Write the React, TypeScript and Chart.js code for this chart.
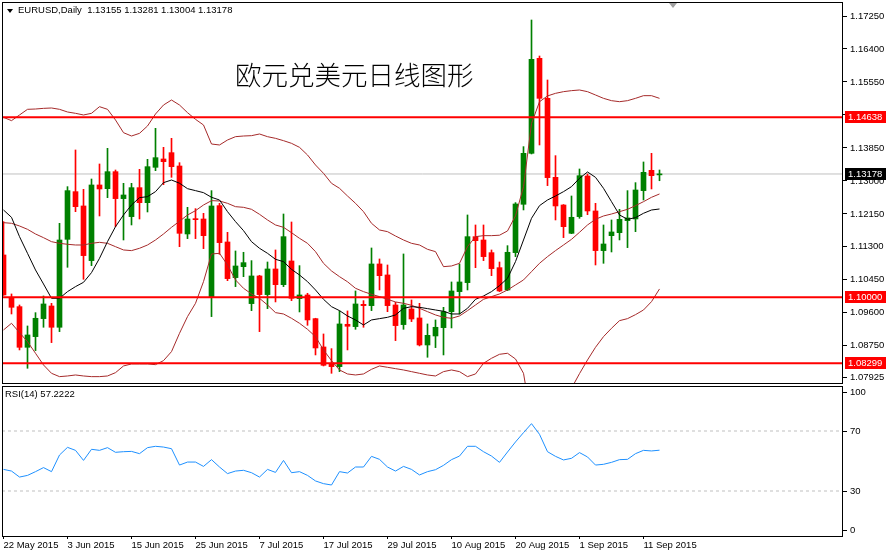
import React, { useEffect, useRef } from 'react';
import { Chart, registerables } from 'chart.js';

Chart.register(...registerables);

// ---- data ----
const opens = [
  1.11091, 1.10000, 1.09759, 1.08711, 1.08986, 1.09450, 1.09776, 1.09227, 1.11494, 1.12723,
  1.12354, 1.10945, 1.12895, 1.12800, 1.13238, 1.12543, 1.12079, 1.12826, 1.12439, 1.13350,
  1.13565, 1.13728, 1.13384, 1.11632, 1.12027, 1.12018, 1.10000, 1.12362, 1.11426, 1.10507,
  1.10790, 1.09837, 1.10550, 1.10069, 1.10730, 1.10326, 1.10936, 1.09966, 1.10060, 1.09450,
  1.08720, 1.08299, 1.08213, 1.09304, 1.09244, 1.09819, 1.09785, 1.10859, 1.10576, 1.09802,
  1.09296, 1.09699, 1.09467, 1.08771, 1.09003, 1.09218, 1.09630, 1.10146, 1.10378, 1.11563,
  1.11477, 1.11151, 1.10764, 1.10189, 1.11151, 1.12397, 1.13711, 1.16159, 1.15128, 1.13092,
  1.12379, 1.11649, 1.12079, 1.13127, 1.12225, 1.11203, 1.11589, 1.11666, 1.11976, 1.12019,
  1.12749, 1.13273, 1.13155,
];
const highs = [
  1.11950, 1.10086, 1.09802, 1.09261, 1.09604, 1.10034, 1.09845, 1.11907, 1.12852, 1.13797,
  1.12783, 1.13049, 1.13436, 1.13840, 1.13281, 1.12938, 1.12938, 1.13298, 1.13556, 1.14355,
  1.13865, 1.14097, 1.13470, 1.12319, 1.12285, 1.12164, 1.12749, 1.12422, 1.11675, 1.11194,
  1.11160, 1.10945, 1.10567, 1.10910, 1.11220, 1.12147, 1.11941, 1.10816, 1.10103, 1.09460,
  1.09055, 1.08677, 1.09648, 1.09648, 1.10163, 1.09914, 1.11271, 1.10988, 1.10833, 1.09871,
  1.11117, 1.09931, 1.09845, 1.09313, 1.09416, 1.09742, 1.10395, 1.10859, 1.12122, 1.11864,
  1.11864, 1.11220, 1.10910, 1.11331, 1.12440, 1.13883, 1.17147, 1.16219, 1.15601, 1.13651,
  1.12390, 1.12611, 1.13307, 1.13178, 1.12422, 1.11864, 1.11993, 1.12268, 1.12749, 1.12955,
  1.13488, 1.13711, 1.13281,
];
const lows = [
  1.10050, 1.09570, 1.08643, 1.08170, 1.08625, 1.09227, 1.08832, 1.09115, 1.10773, 1.12207,
  1.10464, 1.10816, 1.12096, 1.12568, 1.11821, 1.11477, 1.11864, 1.12018, 1.12199, 1.13264,
  1.12903, 1.13092, 1.11305, 1.11512, 1.11512, 1.11254, 1.09502, 1.11108, 1.10429, 1.10275,
  1.10532, 1.09656, 1.09115, 1.09708, 1.09880, 1.10275, 1.09914, 1.09622, 1.09278, 1.08514,
  1.08230, 1.08041, 1.08084, 1.08643, 1.09175, 1.09227, 1.09656, 1.10189, 1.09630, 1.08883,
  1.09175, 1.09373, 1.08746, 1.08454, 1.08703, 1.08514, 1.09210, 1.09570, 1.10189, 1.10764,
  1.10945, 1.10558, 1.10146, 1.10170, 1.11048, 1.12251, 1.13694, 1.13926, 1.12878, 1.11993,
  1.11538, 1.11640, 1.12036, 1.12130, 1.10833, 1.10876, 1.11168, 1.11478, 1.11280, 1.11692,
  1.12508, 1.12792, 1.13004,
];
const closes = [
  1.10060, 1.09742, 1.08711, 1.09029, 1.09459, 1.09828, 1.09227, 1.11477, 1.12749, 1.12336,
  1.11074, 1.12895, 1.12792, 1.13238, 1.12543, 1.12637, 1.12826, 1.12439, 1.13367, 1.13599,
  1.13496, 1.13367, 1.11649, 1.12018, 1.12001, 1.11589, 1.12354, 1.11409, 1.10481, 1.10807,
  1.10893, 1.10550, 1.10069, 1.10730, 1.10326, 1.11563, 1.09974, 1.10060, 1.09416, 1.08694,
  1.08247, 1.08213, 1.09313, 1.09253, 1.09828, 1.09785, 1.10859, 1.10558, 1.09785, 1.09270,
  1.09802, 1.09441, 1.08771, 1.09020, 1.09227, 1.09630, 1.10163, 1.10395, 1.11563, 1.11460,
  1.11048, 1.10739, 1.10163, 1.11160, 1.12405, 1.13711, 1.16133, 1.15128, 1.13084, 1.12354,
  1.11821, 1.12062, 1.13135, 1.12225, 1.11203, 1.11374, 1.11684, 1.12010, 1.12045, 1.12766,
  1.13221, 1.13135, 1.13178,
];
const upperBand = [
  1.14638, 1.14553, 1.14699, 1.14845, 1.14853, 1.14870, 1.14879, 1.14845, 1.14776, 1.14742,
  1.14699, 1.14742, 1.14913, 1.14845, 1.14570, 1.14243, 1.14157, 1.14226, 1.14415, 1.14724,
  1.14956, 1.15085, 1.14956, 1.14759, 1.14587, 1.14441, 1.13951, 1.13926, 1.14054, 1.14140,
  1.14157, 1.14166, 1.14209, 1.14140, 1.14097, 1.14037, 1.13968, 1.13865, 1.13668, 1.13410,
  1.13195, 1.12938, 1.12809, 1.12611, 1.12422, 1.12207, 1.11907, 1.11735, 1.11692, 1.11580,
  1.11477, 1.11391, 1.11348, 1.11237, 1.11177, 1.10790, 1.10807, 1.10876, 1.11305, 1.11563,
  1.11589, 1.11589, 1.11600, 1.11710, 1.12100, 1.12850, 1.14480, 1.15040, 1.15190, 1.15257,
  1.15300, 1.15326, 1.15343, 1.15300, 1.15214, 1.15128, 1.15068, 1.15042, 1.15068, 1.15128,
  1.15197, 1.15197, 1.15128,
];
const middleBand = [
  1.11924, 1.11907, 1.11838, 1.11752, 1.11632, 1.11537, 1.11434, 1.11391, 1.11366, 1.11348,
  1.11348, 1.11391, 1.11417, 1.11391, 1.11305, 1.11220, 1.11203, 1.11263, 1.11348, 1.11477,
  1.11632, 1.11804, 1.11960, 1.12121, 1.12233, 1.12379, 1.12491, 1.12482, 1.12422, 1.12336,
  1.12319, 1.12268, 1.12139, 1.11993, 1.11864, 1.11804, 1.11666, 1.11520, 1.11391, 1.11177,
  1.10876, 1.10679, 1.10532, 1.10400, 1.10232, 1.10146, 1.10077, 1.10017, 1.09948, 1.09880,
  1.09845, 1.09794, 1.09716, 1.09630, 1.09545, 1.09484, 1.09459, 1.09519, 1.09656, 1.09802,
  1.09948, 1.10017, 1.10086, 1.10189, 1.10318, 1.10447, 1.10661, 1.10876, 1.11048, 1.11203,
  1.11348, 1.11494, 1.11675, 1.11864, 1.12010, 1.12096, 1.12147, 1.12207, 1.12268, 1.12362,
  1.12465, 1.12577, 1.12663,
];
const lowerBand = [
  1.09158, 1.09330, 1.09089, 1.08857, 1.08557, 1.08256, 1.08041, 1.07955, 1.07972, 1.07998,
  1.07972, 1.07955, 1.07955, 1.07972, 1.08058, 1.08230, 1.08282, 1.08282, 1.08282, 1.08264,
  1.08368, 1.08600, 1.09072, 1.09502, 1.09845, 1.10404, 1.11116, 1.11134, 1.10833, 1.10447,
  1.10232, 1.10086, 1.09974, 1.09802, 1.09605, 1.09570, 1.09459, 1.09330, 1.09175, 1.08986,
  1.08643, 1.08368, 1.08127, 1.08024, 1.07998, 1.08024, 1.08144, 1.08230, 1.08196, 1.08161,
  1.08127, 1.08084, 1.08041, 1.07998, 1.07972, 1.08084, 1.08127, 1.08084, 1.07955, 1.08024,
  1.08299, 1.08428, 1.08531, 1.08557, 1.08410, 1.08041, 1.06840, 1.06710, 1.06910, 1.07150,
  1.07400, 1.07655, 1.08033, 1.08385, 1.08711, 1.08986, 1.09201, 1.09398, 1.09450, 1.09553,
  1.09673, 1.09888, 1.10215,
];
const maLine = [
  1.12250, 1.12061, 1.11563, 1.11134, 1.10704, 1.10343, 1.09974, 1.09974, 1.10146, 1.10275,
  1.10386, 1.10636, 1.11005, 1.11434, 1.11821, 1.12122, 1.12379, 1.12568, 1.12594, 1.12723,
  1.12955, 1.13023, 1.12940, 1.12800, 1.12749, 1.12697, 1.12577, 1.12508, 1.12207, 1.11950,
  1.11718, 1.11434, 1.11263, 1.11134, 1.10979, 1.10919, 1.10721, 1.10575, 1.10404, 1.10189,
  1.09948, 1.09759, 1.09656, 1.09519, 1.09416, 1.09287, 1.09416, 1.09450, 1.09484, 1.09545,
  1.09716, 1.09759, 1.09742, 1.09708, 1.09673, 1.09639, 1.09570, 1.09570, 1.09716, 1.09948,
  1.10034, 1.10146, 1.10300, 1.10490, 1.10920, 1.11477, 1.12036, 1.12362, 1.12508, 1.12611,
  1.12723, 1.12852, 1.13067, 1.13230, 1.13092, 1.12809, 1.12465, 1.12122, 1.12010, 1.12053,
  1.12165, 1.12250, 1.12276,
];
const rsiValues = [
  44.4, 43.3, 39.3, 40.4, 42.9, 45.6, 42.9, 54.0, 59.1, 57.1,
  50.4, 57.8, 57.1, 58.9, 55.8, 56.2, 56.4, 54.9, 58.9, 59.8,
  59.3, 58.2, 47.3, 49.3, 49.3, 46.4, 50.9, 46.0, 41.6, 43.3,
  43.8, 42.2, 39.3, 44.4, 42.4, 50.4, 42.2, 42.9, 40.4, 36.7,
  34.9, 34.0, 42.9, 42.0, 46.0, 46.0, 53.1, 51.1, 46.0, 43.3,
  46.4, 44.4, 40.7, 42.9, 44.2, 47.1, 50.9, 53.3, 59.8, 59.8,
  56.2, 53.3, 49.1, 56.0, 62.7, 68.9, 74.9, 67.8, 56.2, 53.1,
  50.7, 51.8, 55.6, 52.7, 47.3, 47.8, 49.1, 50.9, 51.1, 54.9,
  57.1, 56.7, 57.2,
];
const levelLines = [1.14638, 1.10000, 1.08299];
const bidPrice = 1.13178;
const priceTicks = [1.1725, 1.164, 1.1555, 1.147, 1.1385, 1.13, 1.1215, 1.113, 1.1045, 1.096, 1.0875, 1.07925];
const rsiLevels = [70, 30];
const rsiTickValues = [96, 70, 30, 4];
const rsiTickLabels = ['100', '70', '30', '0'];
const dateTickIndex = [0, 8, 16, 24, 32, 40, 48, 56, 64, 72, 80];
const dateTickLabels = [
  '22 May 2015', '3 Jun 2015', '15 Jun 2015', '25 Jun 2015', '7 Jul 2015', '17 Jul 2015',
  '29 Jul 2015', '10 Aug 2015', '20 Aug 2015', '1 Sep 2015', '11 Sep 2015',
];

// ---- styling ----
const X_MIN = -0.1875;
const X_MAX = 104.9375;
const UP = '#008000';
const DOWN = '#ff0000';
const BAND = '#a52a2a';
const FONT = "'Liberation Sans', Arial, sans-serif";
const TICK_FONT = { family: FONT, size: 9.5 };

const fitY = (s: any) => { s.width = 43; s.paddingTop = 0; s.paddingBottom = 0; };
const fitX = (s: any) => { s.height = 16; s.paddingLeft = 0; s.paddingRight = 0; };

const framePlugin = {
  id: 'frame',
  afterDraw(chart: any) {
    const { ctx, chartArea } = chart;
    ctx.save();
    ctx.strokeStyle = '#000';
    ctx.lineWidth = 1;
    ctx.strokeRect(chartArea.left + 0.5, chartArea.top + 0.5, chartArea.right - chartArea.left - 1, chartArea.bottom - chartArea.top);
    ctx.restore();
  },
};

const priceBoxPlugin = {
  id: 'priceBoxes',
  afterDraw(chart: any) {
    const { ctx, chartArea } = chart;
    const y = chart.scales.y;
    const x = chart.scales.x;
    ctx.save();
    ctx.font = `9.5px ${FONT}`;
    ctx.textBaseline = 'middle';
    const boxes = [
      ...levelLines.map((v) => ({ v, bg: '#ff0000' })),
      { v: bidPrice, bg: '#000000' },
    ];
    boxes.forEach(({ v, bg }) => {
      const py = Math.round(y.getPixelForValue(v));
      ctx.fillStyle = bg;
      ctx.fillRect(chartArea.right + 2, py - 6, chart.width - chartArea.right - 2, 12);
      ctx.fillStyle = '#ffffff';
      ctx.fillText(v.toFixed(5), chartArea.right + 5, py + 0.5);
    });
    // chart-shift marker
    const sx = Math.round(x.getPixelForValue(opens.length + 1)) - 3;
    ctx.fillStyle = '#a0a0a0';
    ctx.beginPath();
    ctx.moveTo(sx - 4, chartArea.top + 1);
    ctx.lineTo(sx + 4, chartArea.top + 1);
    ctx.lineTo(sx, chartArea.top + 6);
    ctx.closePath();
    ctx.fill();
    ctx.restore();
  },
};

const lineDs = (data: number[], color: string, order: number, width = 1) => ({
  type: 'line' as const,
  data: data.map((v, i) => ({ x: i, y: v })),
  borderColor: color,
  borderWidth: width,
  pointRadius: 0,
  tension: 0,
  fill: false,
  order,
});

const flatDs = (v: number, color: string, order: number, width: number, dash: number[] = []) => ({
  type: 'line' as const,
  data: [{ x: X_MIN, y: v }, { x: X_MAX, y: v }],
  borderColor: color,
  borderWidth: width,
  borderDash: dash,
  pointRadius: 0,
  fill: false,
  order,
});

const candleColor = (ctx: any) => (closes[ctx.dataIndex] >= opens[ctx.dataIndex] ? UP : DOWN);

export default function App() {
  const mainRef = useRef<HTMLCanvasElement>(null);
  const rsiRef = useRef<HTMLCanvasElement>(null);

  useEffect(() => {
    const mainChart = new Chart(mainRef.current as HTMLCanvasElement, {
      type: 'bar',
      data: {
        datasets: [
          flatDs(bidPrice, '#c0c0c0', 20, 1),
          {
            type: 'bar',
            data: highs.map((h, i) => ({ x: i, y: [lows[i], h] })),
            backgroundColor: candleColor,
            borderWidth: 0,
            barThickness: 1,
            grouped: false,
            order: 15,
          } as any,
          {
            type: 'bar',
            data: opens.map((o, i) => ({ x: i, y: [o, closes[i]] })),
            backgroundColor: candleColor,
            borderWidth: 0,
            barThickness: 5,
            minBarLength: 1,
            grouped: false,
            order: 14,
          } as any,
          lineDs(upperBand, BAND, 8),
          lineDs(middleBand, BAND, 8),
          lineDs(lowerBand, BAND, 8),
          lineDs(maLine, '#000000', 6),
          ...levelLines.map((v) => flatDs(v, '#ff0000', 2, 2)),
        ],
      },
      options: {
        responsive: false,
        animation: false,
        events: [],
        layout: { autoPadding: false, padding: { left: 2, top: 2, right: 0, bottom: 1 } },
        plugins: { legend: { display: false }, tooltip: { enabled: false }, title: { display: false } },
        scales: {
          x: { type: 'linear', min: X_MIN, max: X_MAX, display: false, offset: false, grid: { offset: false } },
          y: {
            type: 'linear',
            position: 'right',
            min: 1.07791,
            max: 1.17611,
            afterFit: fitY,
            afterBuildTicks: (s: any) => { s.ticks = priceTicks.map((v) => ({ value: v })); },
            ticks: {
              autoSkip: false,
              padding: 3,
              color: '#000',
              font: TICK_FONT,
              callback: (v: any) => Number(v).toFixed(5),
            },
            grid: { drawOnChartArea: false, drawTicks: true, tickLength: 4, tickColor: '#000', color: '#000' },
            border: { display: false },
          },
        },
      } as any,
      plugins: [framePlugin, priceBoxPlugin],
    });

    const rsiChart = new Chart(rsiRef.current as HTMLCanvasElement, {
      type: 'line',
      data: {
        datasets: [
          ...rsiLevels.map((v) => flatDs(v, '#c0c0c0', 5, 1, [3, 3])),
          lineDs(rsiValues, '#1e90ff', 1),
        ],
      },
      options: {
        responsive: false,
        animation: false,
        events: [],
        layout: { autoPadding: false, padding: { left: 2, top: 2, right: 0, bottom: 0 } },
        plugins: { legend: { display: false }, tooltip: { enabled: false } },
        scales: {
          x: {
            type: 'linear',
            min: X_MIN,
            max: X_MAX,
            offset: false,
            afterFit: fitX,
            afterBuildTicks: (s: any) => { s.ticks = dateTickIndex.map((v) => ({ value: v })); },
            ticks: {
              autoSkip: false,
              maxRotation: 0,
              minRotation: 0,
              align: 'start',
              padding: 1,
              color: '#000',
              font: TICK_FONT,
              callback: (v: any) => {
                const i = dateTickIndex.indexOf(Number(v));
                return i >= 0 ? dateTickLabels[i] : '';
              },
            },
            grid: { drawOnChartArea: false, drawTicks: true, tickLength: 3, tickColor: '#000', color: '#000' },
            border: { display: false },
          },
          y: {
            type: 'linear',
            position: 'right',
            min: 0,
            max: 100,
            afterFit: fitY,
            afterBuildTicks: (s: any) => { s.ticks = rsiTickValues.map((v) => ({ value: v })); },
            ticks: {
              autoSkip: false,
              padding: 3,
              color: '#000',
              font: TICK_FONT,
              callback: (v: any) => {
                const i = rsiTickValues.indexOf(Number(v));
                return i >= 0 ? rsiTickLabels[i] : '';
              },
            },
            grid: { drawOnChartArea: false, drawTicks: true, tickLength: 4, tickColor: '#000', color: '#000' },
            border: { display: false },
          },
        },
      } as any,
      plugins: [framePlugin],
    });

    return () => {
      mainChart.destroy();
      rsiChart.destroy();
    };
  }, []);

  const last = opens.length - 1;
  const header = `EURUSD,Daily  ${opens[last].toFixed(5)} ${highs[last].toFixed(5)} ${lows[last].toFixed(5)} ${closes[last].toFixed(5)}`;

  return (
    <div style={{ position: 'fixed', left: 0, top: 0, width: 886, height: 552, background: '#fff', overflow: 'hidden' }}>
      <canvas ref={mainRef} width={886} height={384} style={{ position: 'absolute', left: 0, top: 0 }} />
      <canvas ref={rsiRef} width={886} height={168} style={{ position: 'absolute', left: 0, top: 384 }} />
      <div style={{ position: 'absolute', left: 7, top: 9, width: 0, height: 0, borderLeft: '3px solid transparent', borderRight: '3px solid transparent', borderTop: '4px solid #000' }} />
      <div style={{ position: 'absolute', left: 18, top: 4, font: `9.5px ${FONT}`, lineHeight: '12px', color: '#000', whiteSpace: 'pre' }}>
        {header}
      </div>
      <div style={{ position: 'absolute', left: 235, top: 60, font: `300 26.5px 'Noto Sans CJK SC', sans-serif`, lineHeight: '28px', color: '#000', whiteSpace: 'pre' }}>
        欧元兑美元日线图形
      </div>
      <div style={{ position: 'absolute', left: 5, top: 388, font: `9.5px ${FONT}`, lineHeight: '12px', color: '#000', whiteSpace: 'pre' }}>
        {`RSI(14) ${'57.2222'}`}
      </div>
    </div>
  );
}
